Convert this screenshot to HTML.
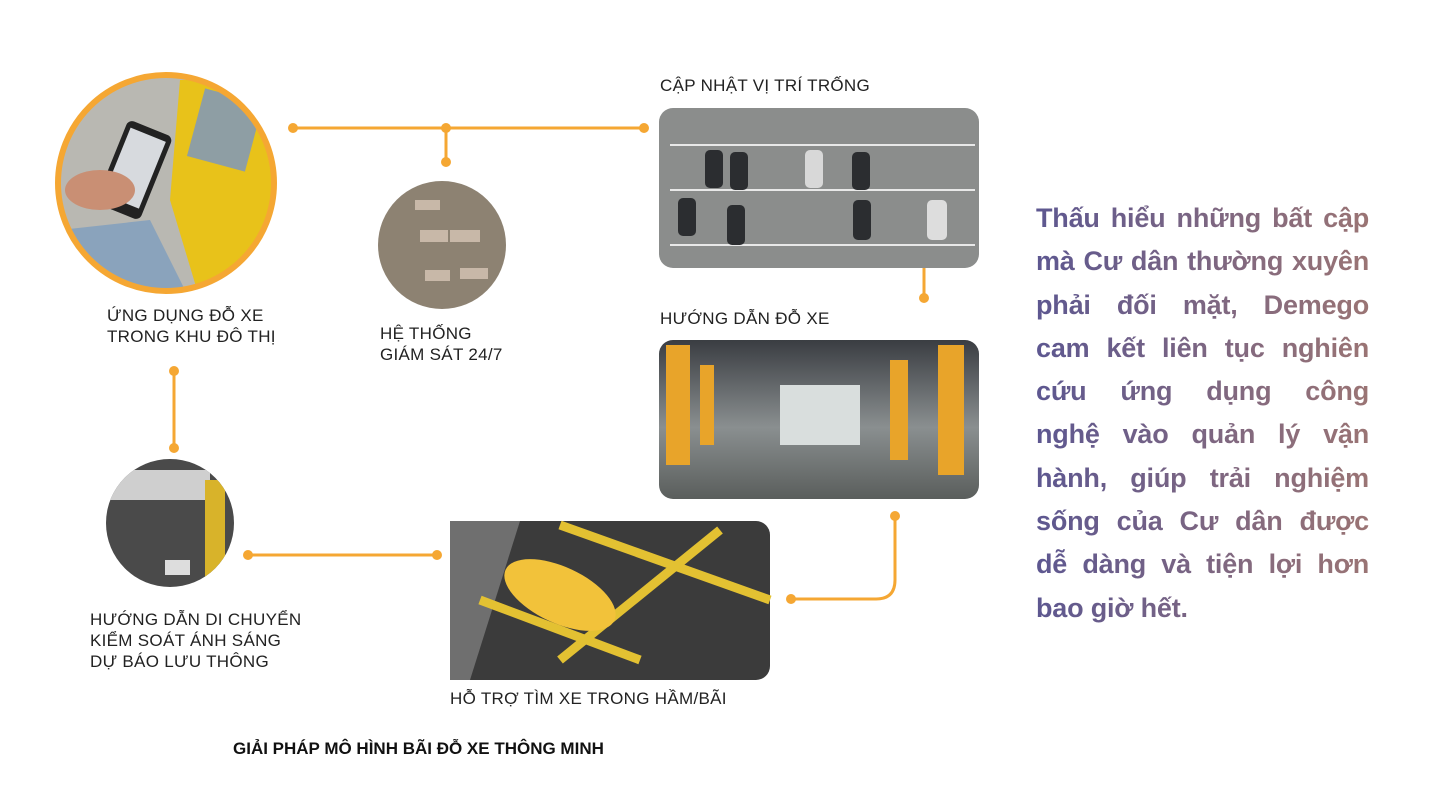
<!DOCTYPE html>
<html><head><meta charset="utf-8"><style>
body{margin:0;width:1442px;height:811px;background:#fff;position:relative;overflow:hidden;font-family:"Liberation Sans",sans-serif}
.lbl{position:absolute;font-size:17px;color:#222;line-height:21px;letter-spacing:.3px}
.para{position:absolute;left:1036px;top:197px;width:333px;font-size:27px;font-weight:bold;line-height:43.3px;letter-spacing:-.2px;background:linear-gradient(90deg,#5d5790,#9a7474);-webkit-background-clip:text;background-clip:text;color:transparent}
.para span{display:block;text-align:justify;text-align-last:justify;white-space:nowrap}
.para span.last{text-align-last:left}
</style></head><body>
<svg width="1442" height="811" style="position:absolute;left:0;top:0">
<defs>
<clipPath id="c1"><circle cx="166" cy="183" r="106"/></clipPath>
<clipPath id="c2"><circle cx="442" cy="245" r="64"/></clipPath>
<clipPath id="c3"><circle cx="170" cy="523" r="64"/></clipPath>
<linearGradient id="g2" x1="0" y1="0" x2="0" y2="1"><stop offset="0" stop-color="#3a3d42"/><stop offset=".55" stop-color="#8a8f90"/><stop offset="1" stop-color="#5a5e5c"/></linearGradient>
</defs>
<g stroke="#f5a733" stroke-width="3" fill="none">
<line x1="293" y1="128" x2="644" y2="128"/><line x1="446" y1="128" x2="446" y2="162"/>
<line x1="924" y1="262" x2="924" y2="298"/>
<path d="M895 516 V580 Q895 599 876 599 H791"/>
<line x1="174" y1="371" x2="174" y2="448"/>
<line x1="248" y1="555" x2="437" y2="555"/>
</g>
<g fill="#f5a733">
<circle cx="293" cy="128" r="5"/><circle cx="446" cy="128" r="5"/><circle cx="446" cy="162" r="5"/><circle cx="644" cy="128" r="5"/>
<circle cx="924" cy="262" r="5"/><circle cx="924" cy="298" r="5"/><circle cx="895" cy="516" r="5"/><circle cx="791" cy="599" r="5"/>
<circle cx="174" cy="371" r="5"/><circle cx="174" cy="448" r="5"/><circle cx="248" cy="555" r="5"/><circle cx="437" cy="555" r="5"/>
</g>
<g clip-path="url(#c1)">
<rect x="50" y="70" width="240" height="230" fill="#b9b8b2"/>
<path d="M180 80 L290 80 L290 300 L200 300 L170 200 Z" fill="#e8c21a"/>
<rect x="195" y="95" width="60" height="70" fill="#8e9ea4" transform="rotate(15 225 130)"/>
<path d="M60 230 L150 220 L190 300 L60 300Z" fill="#8aa3bc"/>
<rect x="110" y="125" width="48" height="90" rx="6" fill="#222" transform="rotate(22 134 170)"/>
<rect x="115" y="132" width="38" height="72" fill="#d7dade" transform="rotate(22 134 170)"/>
<ellipse cx="100" cy="190" rx="35" ry="20" fill="#c98f74"/>
</g>
<circle cx="166" cy="183" r="108" fill="none" stroke="#f5a733" stroke-width="6"/>
<g clip-path="url(#c2)">
<rect x="370" y="175" width="150" height="140" fill="#8d8272"/>
<g fill="#c8b8a8"><rect x="415" y="200" width="25" height="10"/><rect x="450" y="230" width="30" height="12"/><rect x="420" y="230" width="28" height="12"/><rect x="425" y="270" width="25" height="11"/><rect x="460" y="268" width="28" height="11"/></g>
</g>
<g>
<rect x="659" y="108" width="320" height="160" rx="14" fill="#8b8d8c"/>
<g stroke="#e8e8e8" stroke-width="2"><line x1="670" y1="145" x2="975" y2="145"/><line x1="670" y1="245" x2="975" y2="245"/><line x1="670" y1="190" x2="975" y2="190"/></g>
<g fill="#2b2d30"><rect x="705" y="150" width="18" height="38" rx="5"/><rect x="730" y="152" width="18" height="38" rx="5"/><rect x="852" y="152" width="18" height="38" rx="5"/><rect x="678" y="198" width="18" height="38" rx="5"/><rect x="727" y="205" width="18" height="40" rx="5"/><rect x="853" y="200" width="18" height="40" rx="5"/></g>
<rect x="805" y="150" width="18" height="38" rx="5" fill="#d8d8d8"/><rect x="927" y="200" width="20" height="40" rx="5" fill="#ddd"/>
</g>
<g>
<rect x="659" y="340" width="320" height="159" rx="14" fill="url(#g2)"/>
<rect x="780" y="385" width="80" height="60" fill="#d9dedd"/>
<g fill="#e8a42a"><rect x="666" y="345" width="24" height="120"/><rect x="938" y="345" width="26" height="130"/><rect x="890" y="360" width="18" height="100"/><rect x="700" y="365" width="14" height="80"/></g>
</g>
<g>
<rect x="450" y="521" width="320" height="159" rx="14" fill="#3b3b3b"/>
<path d="M450 521 L520 521 L470 680 L450 680Z" fill="#6f6f6f"/>
<g stroke="#e3c132" stroke-width="9" fill="none"><line x1="560" y1="525" x2="770" y2="600"/><line x1="480" y1="600" x2="640" y2="660"/><line x1="560" y1="660" x2="720" y2="530"/></g>
<ellipse cx="560" cy="595" rx="60" ry="28" fill="#f2c23a" transform="rotate(25 560 595)"/>
</g>
<g clip-path="url(#c3)">
<rect x="100" y="455" width="140" height="140" fill="#4a4a4a"/>
<rect x="110" y="470" width="100" height="30" fill="#cfcfcf"/>
<rect x="205" y="480" width="20" height="110" fill="#d8b32a"/>
<rect x="165" y="560" width="25" height="15" fill="#ddd"/>
</g>
</svg>
<div class="lbl" style="left:107px;top:305px">ỨNG DỤNG ĐỖ XE<br>TRONG KHU ĐÔ THỊ</div>
<div class="lbl" style="left:380px;top:323px">HỆ THỐNG<br>GIÁM SÁT 24/7</div>
<div class="lbl" style="left:660px;top:75px">CẬP NHẬT VỊ TRÍ TRỐNG</div>
<div class="lbl" style="left:660px;top:308px">HƯỚNG DẪN ĐỖ XE</div>
<div class="lbl" style="left:450px;top:688px">HỖ TRỢ TÌM XE TRONG HẦM/BÃI</div>
<div class="lbl" style="left:90px;top:609px">HƯỚNG DẪN DI CHUYỂN<br>KIỂM SOÁT ÁNH SÁNG<br>DỰ BÁO LƯU THÔNG</div>
<div class="lbl" style="left:233px;top:738px;font-weight:bold;font-size:17px;color:#111;letter-spacing:0">GIẢI PHÁP MÔ HÌNH BÃI ĐỖ XE THÔNG MINH</div>
<div class="para"><span>Thấu hiểu những bất cập</span><span>mà Cư dân thường xuyên</span><span>phải đối mặt, Demego</span><span>cam kết liên tục nghiên</span><span>cứu ứng dụng công</span><span>nghệ vào quản lý vận</span><span>hành, giúp trải nghiệm</span><span>sống của Cư dân được</span><span>dễ dàng và tiện lợi hơn</span><span class="last">bao giờ hết.</span></div>
</body></html>
